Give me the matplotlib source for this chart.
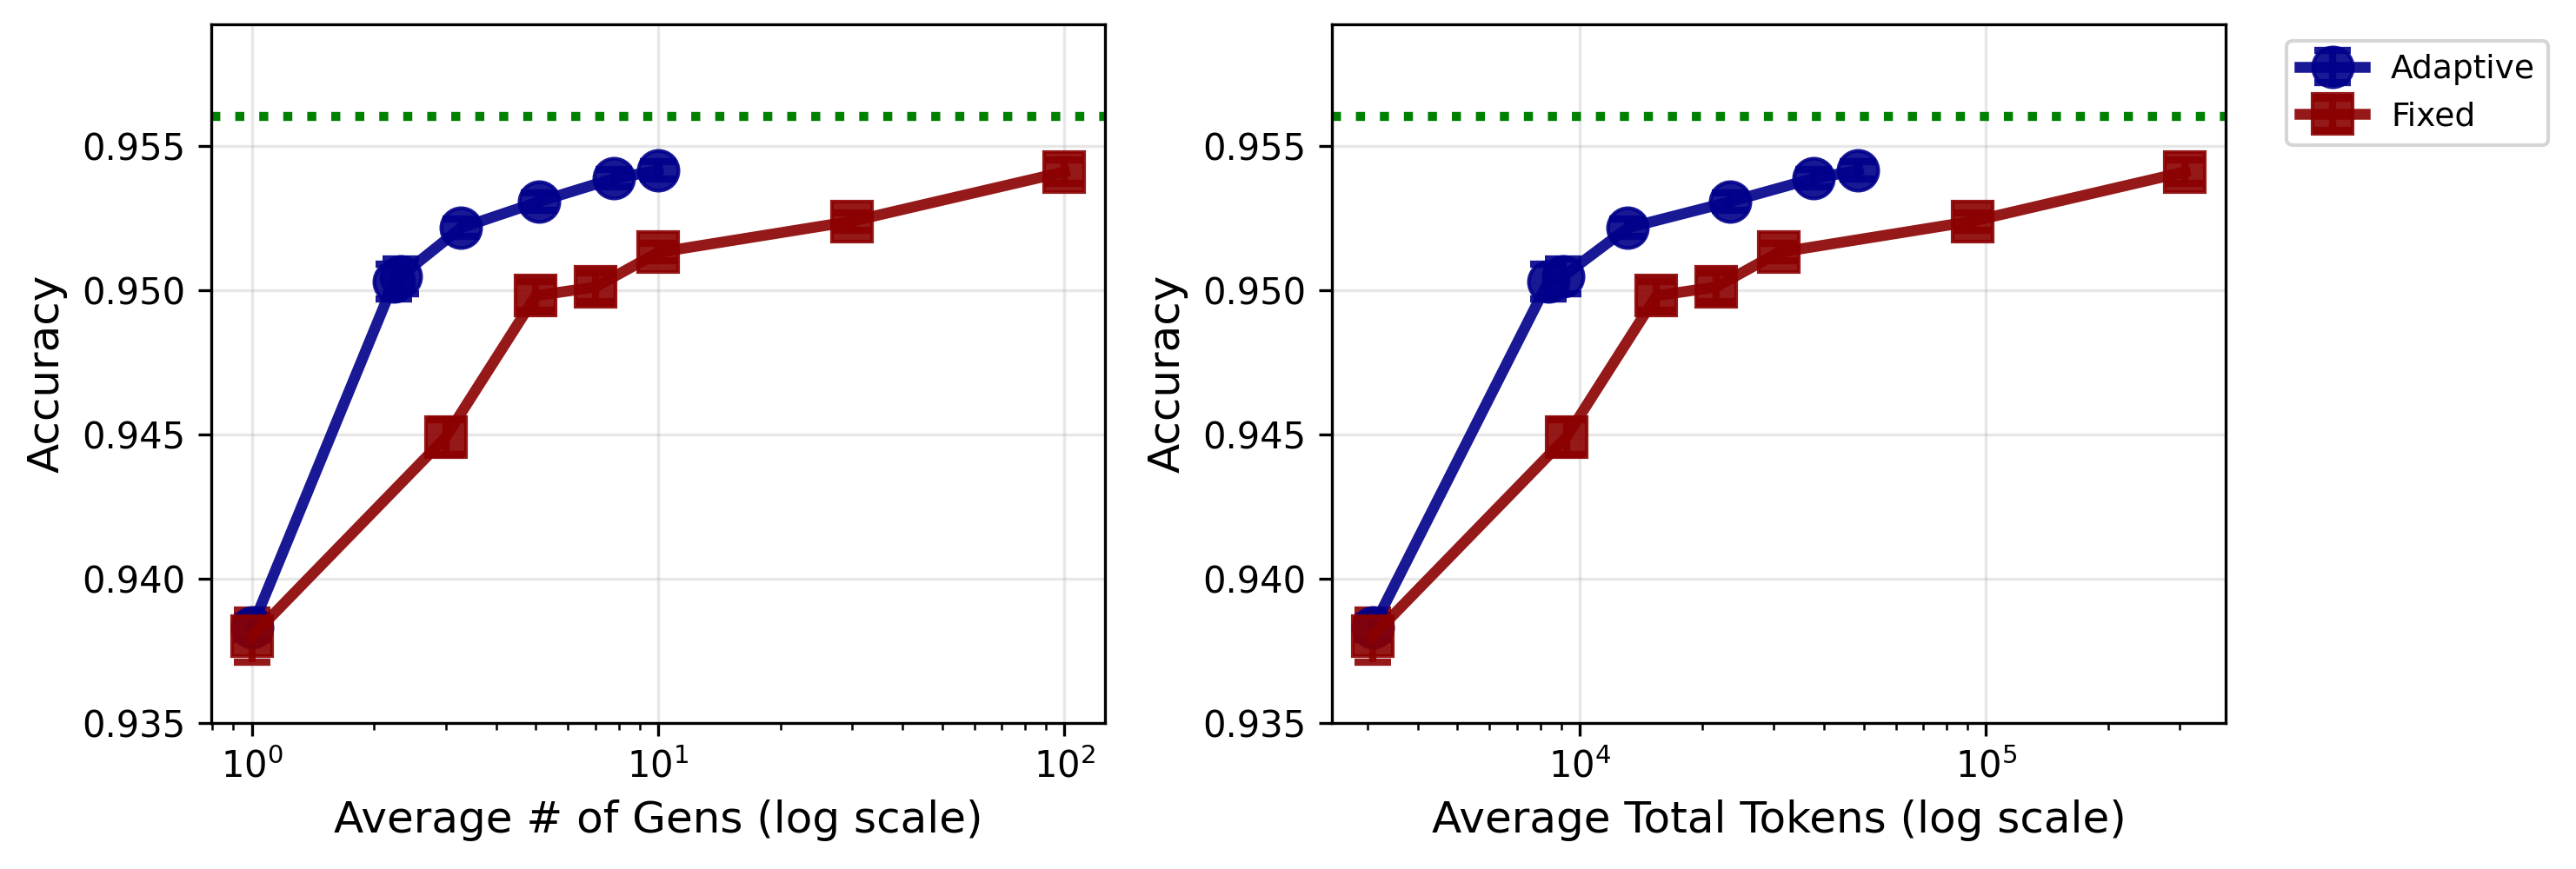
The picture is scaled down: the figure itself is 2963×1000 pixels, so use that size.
import matplotlib
matplotlib.use("Agg")
import matplotlib.pyplot as plt
import numpy as np

# data
baseline = 0.956

adapt_gens = [1.0, 2.24, 2.32, 3.27, 5.09, 7.79, 10.0]
adapt_tokens = [3100, 8370, 9100, 13130, 23500, 37600, 48500]
adapt_acc = [0.9383, 0.95029, 0.95047, 0.95215, 0.95306, 0.95386, 0.95414]
adapt_err = [0.0004, 0.0006, 0.0006, 0.0003, 0.0003, 0.0003, 0.0003]

fixed_gens = [1, 3, 5, 7, 10, 30, 100]
fixed_tokens = [3090, 9270, 15450, 21630, 30900, 92700, 309000]
fixed_acc = [0.9380, 0.9449, 0.9498, 0.9501, 0.9513, 0.95238, 0.95409]
fixed_err = [0.0009, 0.0006, 0.0005, 0.0005, 0.0003, 0.0003, 0.0004]

fig = plt.figure(figsize=(2963/300, 1000/300), dpi=300)
ax1 = fig.add_axes([0.082, 0.168, 0.347, 0.804])
ax2 = fig.add_axes([0.517, 0.168, 0.347, 0.804])

def draw(ax, xa, xf, xlabel):
    ax.errorbar(xa, adapt_acc, yerr=adapt_err, fmt='-o', color='darkblue',
                markersize=11, linewidth=3, capsize=5, capthick=2,
                elinewidth=2, alpha=0.9, label='Adaptive')
    ax.errorbar(xf, fixed_acc, yerr=fixed_err, fmt='-s', color='darkred',
                markersize=11, linewidth=3, capsize=5, capthick=2,
                elinewidth=2, alpha=0.9, label='Fixed')
    ax.axhline(baseline, color='green', linestyle=':', linewidth=2.5)
    ax.set_xscale('log')
    ax.set_ylim(0.935, 0.9592)
    ax.set_xlabel(xlabel, fontsize=12)
    ax.set_ylabel('Accuracy', fontsize=12)
    ax.grid(True, alpha=0.3)

draw(ax1, adapt_gens, fixed_gens, 'Average # of Gens (log scale)')
draw(ax2, adapt_tokens, fixed_tokens, 'Average Total Tokens (log scale)')
ax2.legend(loc='upper left', bbox_to_anchor=(1.05, 1.0), fontsize=9)

fig.savefig('out.png', dpi=300)
